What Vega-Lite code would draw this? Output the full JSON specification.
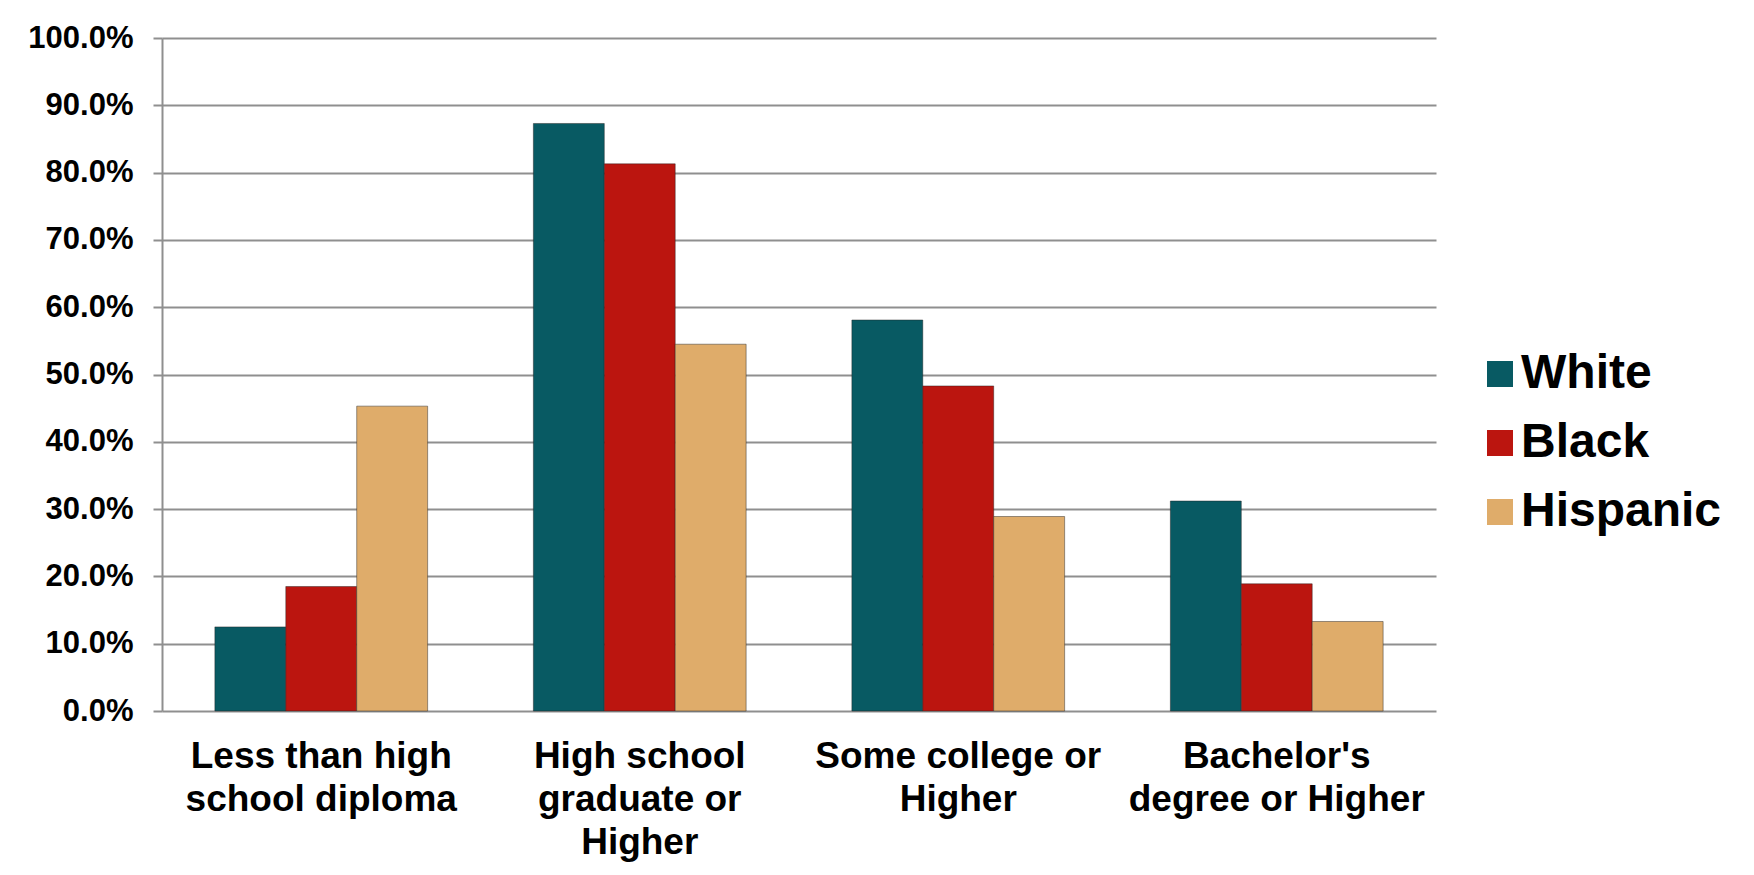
{
  "$schema": "https://vega.github.io/schema/vega-lite/v6.json",
  "autosize": {"type": "none"},
  "width": 1274,
  "height": 673,
  "padding": {"left": 162, "top": 38, "right": 318, "bottom": 164},
  "background": "white",
  "data": {"values": [
    {"level": "Less than high school diploma", "race": "White", "pct": 0.125},
    {"level": "Less than high school diploma", "race": "Black", "pct": 0.185},
    {"level": "Less than high school diploma", "race": "Hispanic", "pct": 0.453},
    {"level": "High school graduate or Higher", "race": "White", "pct": 0.873},
    {"level": "High school graduate or Higher", "race": "Black", "pct": 0.813},
    {"level": "High school graduate or Higher", "race": "Hispanic", "pct": 0.545},
    {"level": "Some college or Higher", "race": "White", "pct": 0.581},
    {"level": "Some college or Higher", "race": "Black", "pct": 0.483},
    {"level": "Some college or Higher", "race": "Hispanic", "pct": 0.289},
    {"level": "Bachelor's degree or Higher", "race": "White", "pct": 0.312},
    {"level": "Bachelor's degree or Higher", "race": "Black", "pct": 0.189},
    {"level": "Bachelor's degree or Higher", "race": "Hispanic", "pct": 0.133}
  ]},
  "mark": {"type": "bar", "stroke": "#222222", "strokeWidth": 1, "strokeOpacity": 0.45},
  "encoding": {
    "x": {
      "field": "level", "type": "nominal",
      "sort": ["Less than high school diploma", "High school graduate or Higher", "Some college or Higher", "Bachelor's degree or Higher"],
      "scale": {"paddingInner": 0.332, "paddingOuter": 0.166},
      "axis": {
        "title": null, "labelAngle": 0, "ticks": false, "domain": false,
        "labelFont": "Liberation Sans", "labelFontSize": 37, "labelFontWeight": "bold", "labelColor": "black",
        "labelPadding": 27, "labelLineHeight": 43, "labelLimit": 500,
        "labelExpr": "datum.value == 'Less than high school diploma' ? ['Less than high', 'school diploma'] : datum.value == 'High school graduate or Higher' ? ['High school', 'graduate or', 'Higher'] : datum.value == 'Some college or Higher' ? ['Some college or', 'Higher'] : ['Bachelor\\'s', 'degree or Higher']"
      }
    },
    "xOffset": {"field": "race", "type": "nominal", "sort": ["White", "Black", "Hispanic"]},
    "y": {
      "field": "pct", "type": "quantitative",
      "scale": {"domain": [0, 1], "nice": false},
      "axis": {
        "title": null, "format": ".1%", "values": [0, 0.1, 0.2, 0.3, 0.4, 0.5, 0.6, 0.7, 0.8, 0.9, 1.0],
        "domainColor": "#8f8f8f", "domainWidth": 2, "tickColor": "#8f8f8f", "tickWidth": 2, "tickSize": 9,
        "gridColor": "#8f8f8f", "gridWidth": 2,
        "labelFont": "Liberation Sans", "labelFontSize": 31, "labelFontWeight": "bold", "labelColor": "black", "labelPadding": 20
      }
    },
    "color": {
      "field": "race", "type": "nominal",
      "scale": {"domain": ["White", "Black", "Hispanic"], "range": ["#085A63", "#BB150F", "#DFAC6A"]},
      "legend": {
        "title": null, "orient": "none", "legendX": 1314, "legendY": 312,
        "symbolType": "square", "symbolSize": 676, "symbolStrokeWidth": 0, "symbolOpacity": 1,
        "labelFont": "Liberation Sans", "labelFontSize": 48, "labelFontWeight": "bold", "labelColor": "black",
        "labelOffset": -3, "rowPadding": 21, "labelLimit": 400
      }
    }
  },
  "config": {"font": "Liberation Sans", "view": {"stroke": null}}
}
